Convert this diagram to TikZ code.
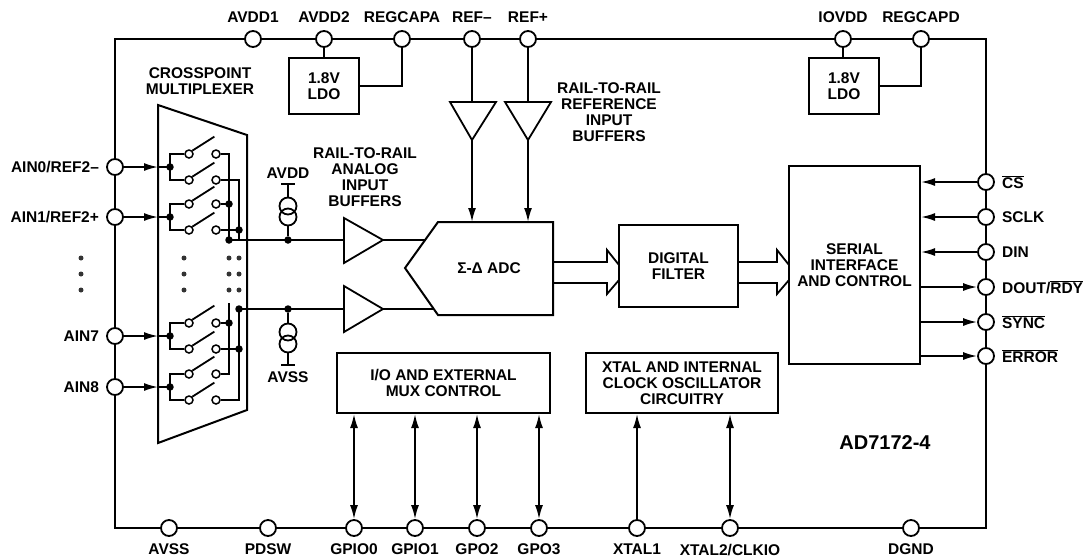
\documentclass[tikz,border=0pt]{standalone}
\usepackage{fontspec}
\setmainfont{Liberation Sans}
\usetikzlibrary{positioning,arrows.meta}
\newcommand{\lblfont}{\fontsize{15.5}{16}\selectfont\bfseries}
\newcommand{\ovl}[1]{$\overline{\mbox{#1}}$}
\tikzset{
  iopad/.style={circle,draw,fill=white,line width=1.8pt,minimum size=16pt,inner sep=0pt},
  contact/.style={circle,draw,fill=white,line width=1.5pt,minimum size=8pt,inner sep=0pt},
  isrc/.style={circle,draw,line width=1.8pt,minimum size=17pt,inner sep=0pt},
  jdot/.style={circle,fill=black,minimum size=7.5pt,inner sep=0pt},
  sdot/.style={circle,fill=black!80,minimum size=5pt,inner sep=0pt},
  blk/.style={draw,line width=2pt,align=center,font=\lblfont,inner sep=0pt},
  lbl/.style={font=\lblfont,align=center,inner sep=0pt},
  wire/.style={line width=1.8pt}
}
\begin{document}
\begin{tikzpicture}[x=1pt,y=-1pt,>={Latex[length=14pt,width=8pt]},line join=miter]
\useasboundingbox (0,0) rectangle (1083,558);

% chip outline
\draw[line width=2.8pt] (115,39) rectangle (986,528);

% pads
\foreach \nm/\xx/\tx in {avdd1/253/AVDD1,avdd2/324/AVDD2,regcapa/402/REGCAPA,refm/472/REF–,refp/528/REF+,iovdd/843/IOVDD,regcapd/921/REGCAPD}{
  \node[iopad] (\nm) at (\xx,39) {};
  \node[lbl,above=7pt of \nm] (\nm-l) {\tx};
}
\foreach \nm/\xx/\tx in {avss/169/AVSS,pdsw/268/PDSW,gpio0/354/GPIO0,gpio1/415/GPIO1,gpo2/477/GPO2,gpo3/539/GPO3,xtal1/637/XTAL1,xtal2/730/{XTAL2/CLKIO},dgnd/911/DGND}{
  \node[iopad] (\nm) at (\xx,528) {};
  \node[lbl,below=7pt of \nm] (\nm-l) {\tx};
}
\foreach \nm/\yy/\tx in {ain0/167/{AIN0/REF2–},ain1/217/{AIN1/REF2+},ain7/336/AIN7,ain8/387/AIN8}{
  \node[iopad] (\nm) at (115,\yy) {};
  \node[lbl,left=7pt of \nm] (\nm-l) {\tx};
}
\foreach \nm/\yy/\tx in {cs/182/\ovl{CS},sclk/217/SCLK,din/252/DIN,dout/287/{DOUT/\ovl{RDY}},sync/322/\ovl{SYNC},error/356/\ovl{ERROR}}{
  \node[iopad] (\nm) at (986,\yy) {};
  \node[lbl,right=7pt of \nm] (\nm-l) {\tx};
}

% LDOs
\node[blk,minimum width=70pt,minimum height=56pt] (ldoa) at (324,86) {1.8V\\LDO};
\node[blk,minimum width=70pt,minimum height=56pt] (ldod) at (844,86) {1.8V\\LDO};
\draw[wire] (avdd2) -- (ldoa);
\draw[wire] (ldoa.east) -| (regcapa);
\draw[wire] (iovdd) -- (iovdd |- ldod.north);
\draw[wire] (ldod.east) -| (regcapd);

% crosspoint multiplexer
\draw[line width=2pt] (158,105) -- (247,135) -- (247,410) -- (158,443) -- cycle;
\node[lbl] (mux-l) at (200,81) {CROSSPOINT\\MULTIPLEXER};
\foreach \i/\yy in {0/167,1/217,7/336,8/387}{
  \node[contact] (su\i) at (189,\yy-13) {};
  \node[contact] (tu\i) at (216,\yy-13) {};
  \node[contact] (sl\i) at (189,\yy+13) {};
  \node[contact] (tl\i) at (216,\yy+13) {};
  \coordinate (e\i) at (158,\yy);
  \draw[wire,->] (ain\i) -- (e\i);
  \draw[wire] (e\i) -- (170,\yy) coordinate (j\i);
  \draw[wire] (su\i) -| (j\i) |- (sl\i);
  \draw[wire] (su\i.north east) -- ++(22,-14);
  \draw[wire] (sl\i.north east) -- ++(22,-14);
  \node[jdot] (jd\i) at (j\i) {};
}
\draw[wire] (tu0) -| (229,240);
\draw[wire] (tl0) -| (239,241);
\draw[wire] (tu1) -- (229,204) node[jdot] (ka1) {};
\draw[wire] (tl1) -- (239,230) node[jdot] (kb1) {};
\draw[wire] (tu8) -| (229,303);
\draw[wire] (tl8) -| (239,309);
\draw[wire] (tu7) -- (229,323) node[jdot] (ka7) {};
\draw[wire] (tl7) -- (239,349) node[jdot] (kb7) {};
\foreach \yy in {258,274,290}{
  \node[sdot] (dl\yy) at (81,\yy) {};
  \node[sdot] (dm\yy) at (184,\yy) {};
  \node[sdot] (da\yy) at (229,\yy) {};
  \node[sdot] (db\yy) at (239,\yy) {};
}

% analog input buffers
\draw[wire] (344,218) -- (383,240) coordinate (abp) -- (344,263) -- cycle;
\draw[wire] (344,286) -- (383,309) coordinate (abn) -- (344,332) -- cycle;
\draw[wire] (229,240) -- (344,240);
\draw[wire] (239,309) -- (344,309);
\node[jdot] (muxp) at (229,240) {};
\node[jdot] (muxn) at (239,309) {};
\node[lbl] (abuf-l) at (365,177) {RAIL-TO-RAIL\\ANALOG\\INPUT\\BUFFERS};

% current sources
\node[isrc] (csa1) at (288,206) {};
\node[isrc] (csa2) at (288,217) {};
\node[jdot] (ja) at (288,240) {};
\draw[wire] (281,184) -- (295,184);
\draw[wire] (288,184) -- (csa1);
\draw[wire] (csa2) -- (ja);
\node[lbl] (avdd-s) at (288,173) {AVDD};
\node[isrc] (csb1) at (288,332) {};
\node[isrc] (csb2) at (288,344) {};
\node[jdot] (jb) at (288,309) {};
\draw[wire] (jb) -- (csb1);
\draw[wire] (csb2) -- (288,365);
\draw[wire] (281,365) -- (295,365);
\node[lbl] (avss-s) at (288,377) {AVSS};

% ADC and reference buffers
\draw[line width=2pt] (438,222) -- (553,222) -- (553,315) -- (438,315) -- (405,268) -- cycle;
\node[lbl] (adc) at (489,268) {Σ-Δ ADC};
\draw[wire] (abp) -- (425,240);
\draw[wire] (abn) -- (434,309);
\draw[wire] (450,102) -- (496,102) -- (472,140) coordinate (rbm) -- cycle;
\draw[wire] (505,102) -- (551,102) -- (528,140) coordinate (rbp) -- cycle;
\draw[wire] (refm) -- (472,102);
\draw[wire] (refp) -- (528,102);
\draw[wire,->] (rbm) -- (472,222);
\draw[wire,->] (rbp) -- (528,222);
\node[lbl] (rbuf-l) at (609,112) {RAIL-TO-RAIL\\REFERENCE\\INPUT\\BUFFERS};

% filter, serial interface
\node[blk,minimum width=119pt,minimum height=82pt] (filt) at (678.5,266) {DIGITAL\\FILTER};
\node[blk,minimum width=131pt,minimum height=198pt] (ser) at (854.5,265) {SERIAL\\INTERFACE\\AND CONTROL};
\draw[wire] (553,262) -- (607,262) -- (607,250) -- (619,265);
\draw[wire] (553,283) -- (607,283) -- (607,294) -- (619,280);
\draw[wire] (738,262) -- (777,262) -- (777,250) -- (789,265);
\draw[wire] (738,283) -- (777,283) -- (777,294) -- (789,280);
\foreach \nm in {cs,sclk,din} \draw[wire,->] (\nm) -- (\nm -| ser.east);
\foreach \nm in {dout,sync,error} \draw[wire,->] (\nm -| ser.east) -- (\nm);

% I/O and clock
\node[blk,minimum width=213pt,minimum height=60pt] (iomux) at (443.5,383) {I/O AND EXTERNAL\\MUX CONTROL};
\node[blk,minimum width=192pt,minimum height=60pt] (xtal) at (682,383) {XTAL AND INTERNAL\\CLOCK OSCILLATOR\\CIRCUITRY};
\foreach \nm in {gpio0,gpio1,gpo2,gpo3} \draw[wire,<->] (\nm) -- (\nm |- iomux.south);
\draw[wire,->] (xtal1) -- (xtal1 |- xtal.south);
\draw[wire,<->] (xtal2) -- (xtal2 |- xtal.south);

\node[lbl,font=\fontsize{20}{22}\selectfont\bfseries] (part) at (885,443) {AD7172-4};
\end{tikzpicture}
\end{document}
